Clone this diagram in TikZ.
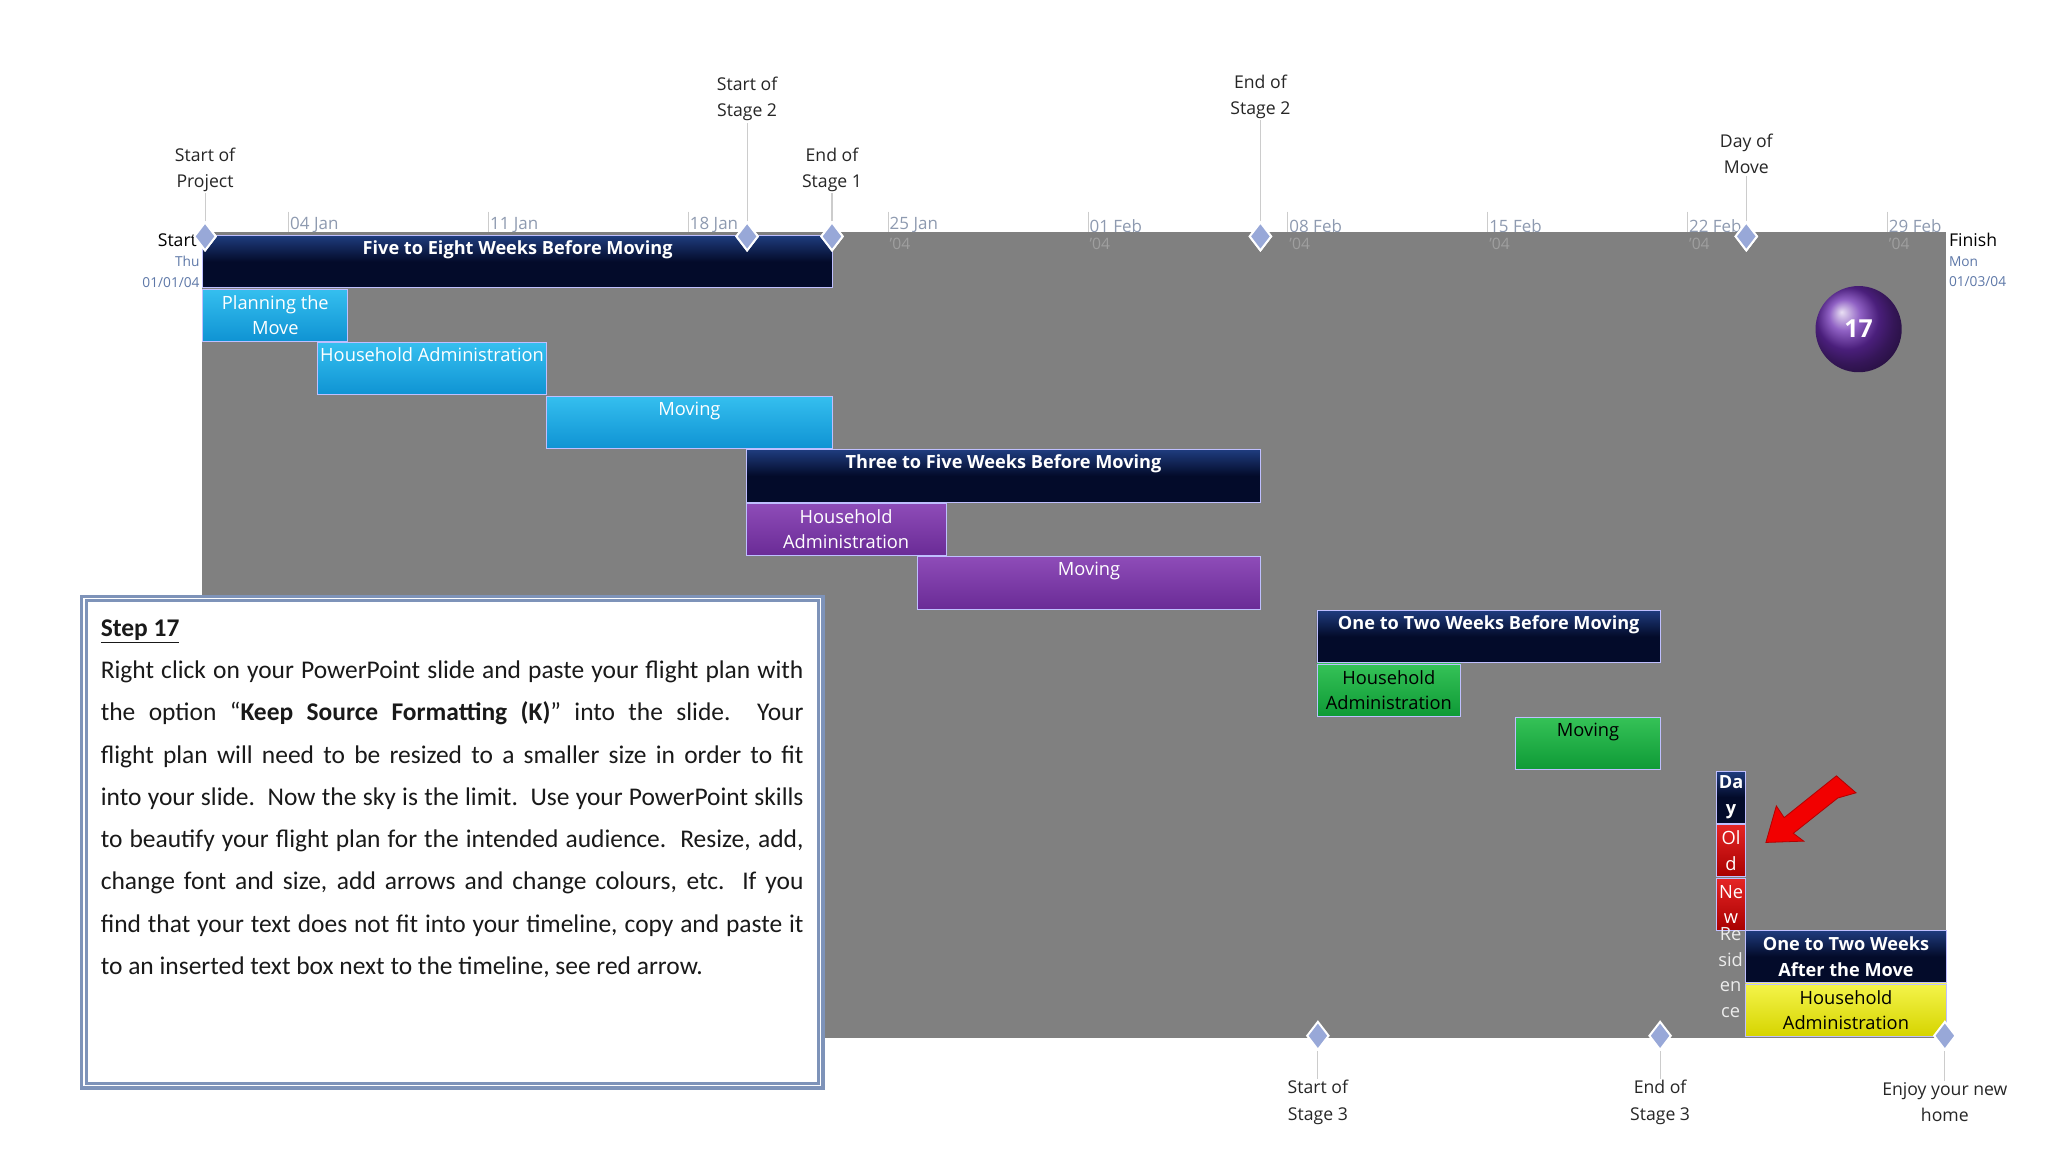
\documentclass[tikz,border=0pt]{standalone}
\usepackage{fontspec}
\setmainfont{Open Sans}
\newfontfamily\carfont{Carlito}
\usetikzlibrary{shapes.geometric,shadows}
\definecolor{navyT}{HTML}{1F3C7E}\definecolor{navyB}{HTML}{030B2A}
\definecolor{cyT}{HTML}{35BFEF}\definecolor{cyB}{HTML}{0F93D3}
\definecolor{puT}{HTML}{8E4CB8}\definecolor{puB}{HTML}{6A2B96}
\definecolor{grT}{HTML}{35C257}\definecolor{grB}{HTML}{0E9A36}
\definecolor{yeT}{HTML}{F4F44A}\definecolor{yeB}{HTML}{D6D400}
\definecolor{reT}{HTML}{E52525}\definecolor{reB}{HTML}{A80000}
\definecolor{area}{HTML}{808080}\definecolor{dtxt}{HTML}{8E9AB0}\definecolor{blt}{HTML}{5E78A8}
\definecolor{msf}{HTML}{98A8D8}\definecolor{circ}{HTML}{6A2CB0}
\tikzset{
 x=1pt,y=-1pt,
 bar/.style={draw=white!75!blue,line width=0.6pt,anchor=north west,minimum height=40pt,inner sep=0pt},
 navy/.style={bar,top color=navyT,bottom color=navyB,middle color=navyB},
 cyan/.style={bar,top color=cyT,bottom color=cyB},
 purp/.style={bar,top color=puT,bottom color=puB},
 gree/.style={bar,top color=grT,bottom color=grB},
 yell/.style={bar,top color=yeT,bottom color=yeB},
 redb/.style={bar,top color=reT,bottom color=reB},
 btxt/.style={text=white,font=\fontsize{14}{19.5}\selectfont,align=center,anchor=north,inner sep=0pt},
 bold/.style={btxt,font=\fontsize{13.9}{19.5}\selectfont\bfseries},
 ms/.style={diamond,draw=white,line width=1.5pt,fill=msf,minimum width=17pt,minimum height=22pt,inner sep=0pt},
 mlab/.style={font=\fontsize{13.5}{20}\selectfont,text=black!85,align=center,inner sep=1pt},
 mline/.style={draw=gray!40,line width=0.8pt},
 date/.style={font=\fontsize{13}{14}\selectfont,text=dtxt,anchor=south west,inner sep=1pt},
 yr/.style={font=\fontsize{12}{13}\selectfont,text=gray!75,anchor=north west,inner sep=1pt},
 tick/.style={draw=gray!40,line width=0.6pt}
}
\begin{document}
\begin{tikzpicture}
\useasboundingbox[fill=white] (0,0) rectangle (1568,882);
\fill[area] (155,178) rectangle (1490,795);
% dates
\foreach \x/\d in {223/04 Jan,376/11 Jan,529/18 Jan,682/25 Jan,835/01 Feb,988/08 Feb,1141/15 Feb,1294/22 Feb,1447/29 Feb}{
 \draw[tick] (\x-2,162) -- (\x-2,178);
 \node[date] (d\x) at (\x-2,179) {\d};}
\foreach \x in {682,835,988,1141,1294,1447}{\node[yr] (y\x) at (\x-2,181) {'04};}
% bars
\node[navy,minimum width=482pt] (b1) at (155,180) {};
\node[bold] (b1t) at ([yshift=-1pt]b1.north) {\strut Five to Eight Weeks Before Moving};
\node[cyan,minimum width=111pt] (b2) at (155,221) {};
\node[btxt] (b2t) at (b2.center) [anchor=center] {Planning the\\Move};
\node[cyan,minimum width=175pt] (b3) at (243,262) {};
\node[btxt] (b3t) at ([yshift=-1pt]b3.north) {\strut Household Administration};
\node[cyan,minimum width=219pt] (b4) at (418,303) {};
\node[btxt] (b4t) at ([yshift=-1pt]b4.north) {\strut Moving};
\node[navy,minimum width=394pt] (b5) at (571,344) {};
\node[bold] (b5t) at ([yshift=-1pt]b5.north) {\strut Three to Five Weeks Before Moving};
\node[purp,minimum width=153pt] (b6) at (571,385) {};
\node[btxt] (b6t) at (b6.center) [anchor=center] {Household\\Administration};
\node[purp,minimum width=263pt] (b7) at (702,426) {};
\node[btxt] (b7t) at ([yshift=-1pt]b7.north) {\strut Moving};
\node[navy,minimum width=263pt] (b8) at (1008,467) {};
\node[bold] (b8t) at ([yshift=-1pt]b8.north) {\strut One to Two Weeks Before Moving};
\node[gree,minimum width=110pt] (b9) at (1008,508) {};
\node[btxt,text=black] (b9t) at (b9.center) [anchor=center] {Household\\Administration};
\node[gree,minimum width=111pt] (b10) at (1160,549) {};
\node[btxt,text=black] (b10t) at ([yshift=-1pt]b10.north) {\strut Moving};
\node[navy,minimum width=22pt] (b11) at (1314,590) {};
\node[bold] (b11t) at (b11.center) [anchor=center] {Da\\y};
\node[redb,minimum width=22pt] (b12) at (1314,631) {};
\node[btxt] (b12t) at (b12.center) [anchor=center] {Ol\\d};
\node[redb,minimum width=22pt] (b13) at (1314,672) {};
\node[btxt] (b13t) at (b13.center) [anchor=center] {Ne\\w};
\node[btxt,text=white!85!gray] (b14t) at (1325,710) {Re\\sid\\en\\ce};
\node[navy,minimum width=154pt] (b15) at (1336,712) {};
\node[bold] (b15t) at (b15.center) [anchor=center] {One to Two Weeks\\After the Move};
\node[yell,minimum width=154pt] (b16) at (1336,753) {};
\node[btxt,text=black] (b16t) at (b16.center) [anchor=center] {Household\\Administration};
% milestones
\node[mlab] (l1) at (157,130) {Start of\\Project};
\node[mlab] (l2) at (572,76) {Start of\\Stage 2};
\node[mlab] (l3) at (637,130) {End of\\Stage 1};
\node[mlab] (l4) at (965,74) {End of\\Stage 2};
\node[mlab] (l5) at (1337,118) {Day of\\Move};
\node[mlab] (l6) at (1009,844) {Start of\\Stage 3};
\node[mlab] (l7) at (1271,844) {End of\\Stage 3};
\node[mlab] (l8) at (1489,844) {Enjoy your new\\home};
\foreach \i/\x/\y in {1/157/181,2/572/181,3/637/181,4/965/181,5/1337/181,6/1009/793,7/1271/793,8/1489/793}{
 \node[ms] (m\i) at (\x,\y) {};
 \draw[mline] (m\i) -- (l\i);}
\node[font=\fontsize{13.5}{16}\selectfont,anchor=east,inner sep=0pt] (st) at (151,184) {Start};
\node[font=\fontsize{10.5}{16}\selectfont,text=blt,align=right,anchor=north east,inner sep=0pt] (std) at (153,196) {Thu\\01/01/04};
\node[font=\fontsize{13.5}{16}\selectfont,anchor=west,inner sep=0pt] (fi) at (1492,184) {Finish};
\node[font=\fontsize{10.5}{16}\selectfont,text=blt,align=left,anchor=north west,inner sep=0pt] (fid) at (1492,196) {Mon\\01/03/04};
\foreach \i in {1,...,5}{\node[ms] (mm\i) at (m\i) {};}
% circle
\node[circle,minimum size=66pt,inner sep=0pt,ball color=circ,drop shadow,text=white,font=\fontsize{19}{20}\selectfont\bfseries] (c17) at (1423,252) {17};
% red arrow
\filldraw[fill=red!95!black,draw=red!70!black,line width=0.6pt] (1352,645) -- (1360,617) -- (1366,626) -- (1406,594) -- (1421,607) -- (1407,611) -- (1373,638) -- (1381,644) -- cycle;
% text box
\node[draw=blt!80,line width=2.5pt,fill=white,double=white,double distance=1pt,drop shadow={opacity=0.35},anchor=north west,minimum width=564pt,minimum height=373pt,inner sep=0pt] (box) at (63,457) {};
\node[anchor=north west,inner sep=0pt,font=\carfont\fontsize{19.5}{32.4}\selectfont,text=black!90] (boxt) at (77,474) {\parbox[t]{538pt}{\parfillskip=0pt plus 1fil\emergencystretch=3em\textbf{\underline{Step 17}}\par
Right click on your PowerPoint slide and paste your flight plan with\linebreak the option “\textbf{Keep Source Formatting (K)}” into the slide.\ \ Your\linebreak flight plan will need to be resized to a smaller size in order to fit\linebreak into your slide.\ \ Now the sky is the limit.\ \ Use your PowerPoint skills\linebreak to beautify your flight plan for the intended audience.\ \ Resize, add,\linebreak change font and size, add arrows and change colours, etc.\ \ If you\linebreak find that your text does not fit into your timeline, copy and paste it\linebreak to an inserted text box next to the timeline, see red arrow.}};
\end{tikzpicture}
\end{document}
